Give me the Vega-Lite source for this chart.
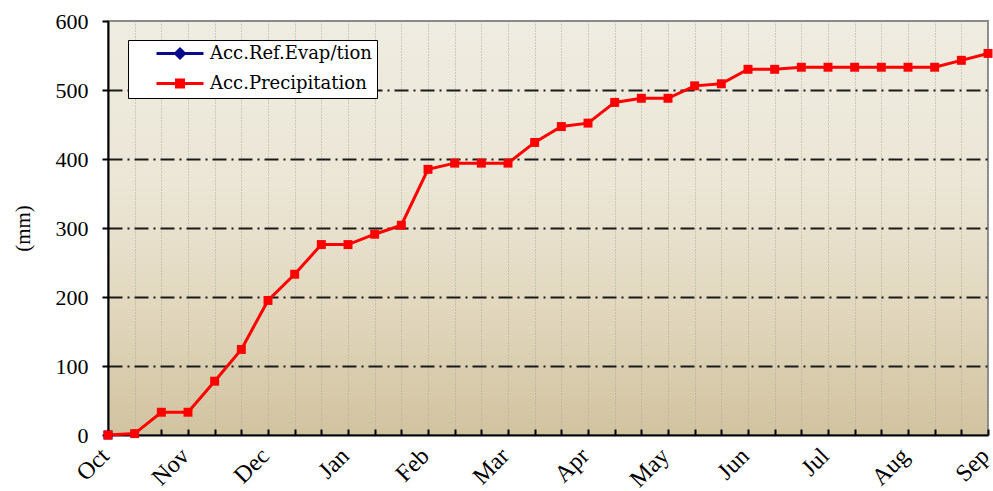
{
  "$schema": "https://vega.github.io/schema/vega-lite/v6.json",
  "autosize": {"type": "none"},
  "width": 880,
  "height": 414,
  "padding": {"left": 108, "top": 21, "right": 5, "bottom": 56},
  "config": {
    "font": "Liberation Serif",
    "view": {
      "stroke": "#8a8a8a",
      "strokeWidth": 2,
      "fill": {
        "gradient": "linear",
        "x1": 0, "y1": 0, "x2": 0, "y2": 1,
        "stops": [
          {"offset": 0, "color": "#efece1"},
          {"offset": 0.4, "color": "#ebe6d5"},
          {"offset": 0.7, "color": "#e1d7bd"},
          {"offset": 1, "color": "#d2c3a0"}
        ]
      }
    }
  },
  "data": {
    "values": [
      {"series": "Acc.Ref.Evap/tion", "t": 0, "mm": 0},
      {"series": "Acc.Precipitation", "t": 0, "mm": 0},
      {"series": "Acc.Precipitation", "t": 1, "mm": 2},
      {"series": "Acc.Precipitation", "t": 2, "mm": 33},
      {"series": "Acc.Precipitation", "t": 3, "mm": 33},
      {"series": "Acc.Precipitation", "t": 4, "mm": 78},
      {"series": "Acc.Precipitation", "t": 5, "mm": 124},
      {"series": "Acc.Precipitation", "t": 6, "mm": 195},
      {"series": "Acc.Precipitation", "t": 7, "mm": 233},
      {"series": "Acc.Precipitation", "t": 8, "mm": 276},
      {"series": "Acc.Precipitation", "t": 9, "mm": 276},
      {"series": "Acc.Precipitation", "t": 10, "mm": 291},
      {"series": "Acc.Precipitation", "t": 11, "mm": 304},
      {"series": "Acc.Precipitation", "t": 12, "mm": 385},
      {"series": "Acc.Precipitation", "t": 13, "mm": 394},
      {"series": "Acc.Precipitation", "t": 14, "mm": 394},
      {"series": "Acc.Precipitation", "t": 15, "mm": 394},
      {"series": "Acc.Precipitation", "t": 16, "mm": 424},
      {"series": "Acc.Precipitation", "t": 17, "mm": 447},
      {"series": "Acc.Precipitation", "t": 18, "mm": 452},
      {"series": "Acc.Precipitation", "t": 19, "mm": 482},
      {"series": "Acc.Precipitation", "t": 20, "mm": 488},
      {"series": "Acc.Precipitation", "t": 21, "mm": 488},
      {"series": "Acc.Precipitation", "t": 22, "mm": 506},
      {"series": "Acc.Precipitation", "t": 23, "mm": 509},
      {"series": "Acc.Precipitation", "t": 24, "mm": 530},
      {"series": "Acc.Precipitation", "t": 25, "mm": 530},
      {"series": "Acc.Precipitation", "t": 26, "mm": 533},
      {"series": "Acc.Precipitation", "t": 27, "mm": 533},
      {"series": "Acc.Precipitation", "t": 28, "mm": 533},
      {"series": "Acc.Precipitation", "t": 29, "mm": 533},
      {"series": "Acc.Precipitation", "t": 30, "mm": 533},
      {"series": "Acc.Precipitation", "t": 31, "mm": 533},
      {"series": "Acc.Precipitation", "t": 32, "mm": 543},
      {"series": "Acc.Precipitation", "t": 33, "mm": 553}
    ]
  },
  "encoding": {
    "x": {
      "field": "t", "type": "quantitative",
      "scale": {"domain": [0, 33], "nice": false, "zero": false},
      "axis": {
        "title": null,
        "values": [0,1,2,3,4,5,6,7,8,9,10,11,12,13,14,15,16,17,18,19,20,21,22,23,24,25,26,27,28,29,30,31,32,33],
        "labelExpr": "datum.value % 3 == 0 ? ['Oct','Nov','Dec','Jan','Feb','Mar','Apr','May','Jun','Jul','Aug','Sep'][datum.value / 3] : ''",
        "labelAngle": -45,
        "labelAlign": "right",
        "labelBaseline": "middle",
        "labelFontSize": 24,
        "labelColor": "#000",
        "labelPadding": 23,
        "labelOffset": -3,
        "labelOverlap": false,
        "labelBound": false,
        "labelFlush": false,
        "tickSize": -6,
        "tickColor": "#000",
        "tickWidth": 2,
        "domainColor": "#000",
        "domainWidth": 2,
        "grid": true,
        "gridColor": "#a8a8a0",
        "gridDash": [1, 2],
        "gridWidth": 1
      }
    },
    "y": {
      "field": "mm", "type": "quantitative",
      "scale": {"domain": [0, 600], "nice": false},
      "axis": {
        "title": "(mm)",
        "titleFontSize": 21,
        "titleFontWeight": "normal",
        "titleColor": "#000",
        "titlePadding": 22,
        "values": [0, 100, 200, 300, 400, 500, 600],
        "labelFontSize": 22,
        "labelColor": "#000",
        "labelPadding": 14,
        "tickSize": 6,
        "tickColor": "#000",
        "tickWidth": 2,
        "domainColor": "#000",
        "domainWidth": 2,
        "grid": true,
        "gridColor": "#1a1a1a",
        "gridWidth": 1.8,
        "gridDash": [14, 5, 2, 5],
        "gridOpacity": {"condition": {"test": "datum.value == 0 || datum.value == 600", "value": 0}, "value": 1}
      }
    }
  },
  "layer": [
    {
      "mark": {"type": "line", "strokeWidth": 3},
      "encoding": {
        "color": {
          "field": "series", "type": "nominal",
          "scale": {"domain": ["Acc.Ref.Evap/tion", "Acc.Precipitation"], "range": ["#0a0a8c", "#ff0000"]}
        }
      }
    },
    {
      "mark": {"type": "point", "filled": true, "opacity": 1, "size": 80, "shape": "square"},
      "encoding": {
        "color": {"field": "series", "type": "nominal"}
      }
    },
    {
      "transform": [{"filter": "datum.t < 0"}],
      "mark": {"type": "point", "filled": true, "opacity": 1},
      "encoding": {
        "shape": {
          "field": "series", "type": "nominal",
          "scale": {
            "domain": ["Acc.Ref.Evap/tion", "Acc.Precipitation"],
            "range": ["M-3.36,0H3.36M0,-0.64L0.64,0L0,0.64L-0.64,0Z", "M-3.36,0H3.36M-0.5,-0.5H0.5V0.5H-0.5Z"]
          }
        },
        "color": {
          "field": "series", "type": "nominal",
          "legend": {
            "title": null,
            "orient": "none",
            "legendX": 20,
            "legendY": 19,
            "fillColor": "#ffffff",
            "strokeColor": "#000",
            "padding": 4.5,
            "symbolOffset": 38.5,
            "symbolSize": 196,
            "symbolStrokeWidth": 3,
            "labelFont": "DejaVu Serif",
            "labelFontSize": 18,
            "labelColor": "#000",
            "labelOffset": 21,
            "labelLimit": 400,
            "rowPadding": 9,
            "labelExpr": "datum.label + '\u00a0\u00a0\u00a0\u00a0\u00a0\u00a0\u00a0\u00a0\u00a0\u00a0\u00a0'",
            "encode": {
              "symbols": {
                "update": {
                  "stroke": {"scale": "color", "field": "value"},
                  "fill": {"scale": "color", "field": "value"}
                }
              }
            }
          }
        }
      }
    }
  ]
}
